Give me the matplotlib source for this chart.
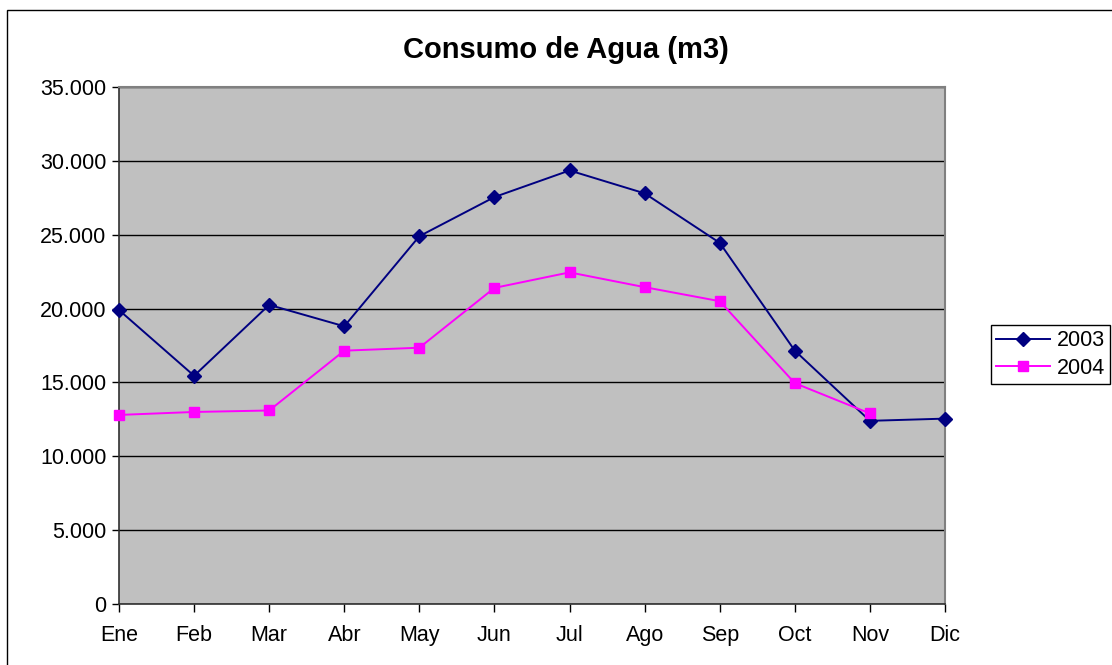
import matplotlib
matplotlib.use("Agg")
import matplotlib.pyplot as plt
from matplotlib.patches import Rectangle
from matplotlib.ticker import FuncFormatter

# monthly water consumption (m3)
months = ["Ene", "Feb", "Mar", "Abr", "May", "Jun",
          "Jul", "Ago", "Sep", "Oct", "Nov", "Dic"]
consumo_2003 = [19900, 15450, 20250, 18800, 24900, 27550,
                29350, 27800, 24450, 17150, 12400, 12550]
consumo_2004 = [12800, 13000, 13100, 17150, 17350, 21400,
                22450, 21450, 20500, 14950, 12900]

plt.rcParams['font.family'] = ['Liberation Sans', 'DejaVu Sans']

fig = plt.figure(figsize=(11.12, 6.65), dpi=100)
W, H = 1112, 665

# outer chart frame (runs past the right/bottom edge of the picture)
fig.patches.append(Rectangle((7 / W, -0.2), 1.2, 1 - 10 / H + 0.2,
                             transform=fig.transFigure, fill=False,
                             edgecolor="black", linewidth=1))

ax = fig.add_axes([119 / W, 1 - 604 / H, (945 - 119) / W, (604 - 87) / H])
ax.set_facecolor("#C0C0C0")

x = list(range(len(months)))
ax.plot(x[:len(consumo_2003)], consumo_2003, color="#000080", marker="D",
        markersize=7.5, linewidth=1.4, label="2003", clip_on=False, zorder=4)
ax.plot(x[:len(consumo_2004)], consumo_2004, color="#FF00FF", marker="s",
        markersize=7, linewidth=1.4, label="2004", clip_on=False, zorder=5)

ax.set_xlim(0, 11)
ax.set_ylim(0, 35000)
ax.set_yticks(range(0, 35001, 5000))
ax.yaxis.set_major_formatter(FuncFormatter(lambda v, p: f"{int(v):,}".replace(",", ".")))
ax.set_xticks(x)
ax.set_xticklabels(months)

ax.grid(axis="y", color="black", linewidth=1)
ax.set_axisbelow(True)
for s in ["top", "right"]:
    ax.spines[s].set_color("#808080")
    ax.spines[s].set_linewidth(1.5)
for s in ["left", "bottom"]:
    ax.spines[s].set_color("#303030")
    ax.spines[s].set_linewidth(1.2)

ax.tick_params(axis="y", length=5, width=1, labelsize=15.5, pad=4)
ax.tick_params(axis="x", length=6, width=1, labelsize=15.5, pad=9)

fig.text(566 / W, 1 - 50 / H, "Consumo de Agua (m3)", ha="center", va="center",
         fontsize=21, fontweight="bold")

leg = ax.legend(loc="upper left", bbox_to_anchor=(991 / W, 1 - 325 / H),
                bbox_transform=fig.transFigure, fancybox=False, framealpha=1,
                edgecolor="black", fontsize=15.5, handlelength=2.5,
                borderpad=0.25, labelspacing=0.3, handletextpad=0.3,
                borderaxespad=0)
leg.get_frame().set_linewidth(1)

fig.savefig("out.png", dpi=100)
